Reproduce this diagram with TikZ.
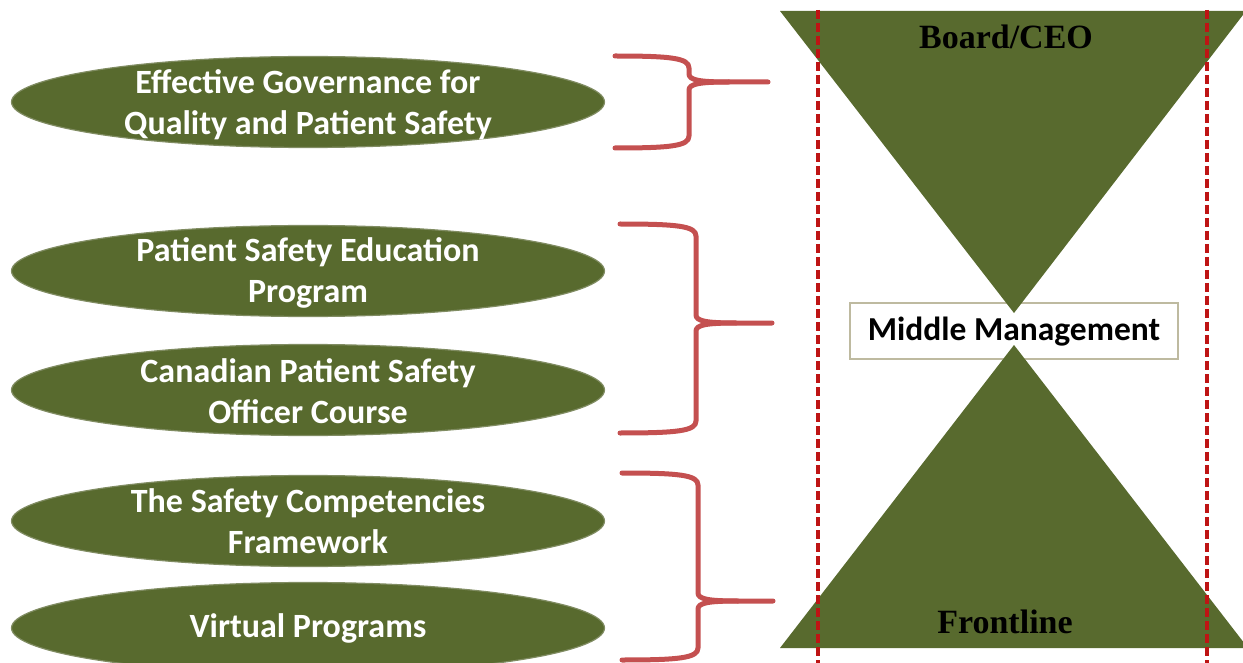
\documentclass[tikz,border=0pt]{standalone}
\usepackage{fontspec}
\setmainfont{Carlito}
\newfontfamily\serifbold{Liberation Serif}
\usetikzlibrary{shapes.geometric}
\definecolor{ogreen}{RGB}{88,106,46}
\definecolor{oedge}{RGB}{128,140,98}
\definecolor{bracered}{RGB}{196,80,80}
\definecolor{dashred}{RGB}{190,20,20}
\definecolor{boxedge}{RGB}{190,186,160}
\newcommand{\redbrace}[6]{%
  \draw[bracestyle] (#1,#4) .. controls ({#1+0.75*(#2-#1)},#4) and (#2,{#4+2}) .. (#2,{#4+12})
     -- (#2,{#5-8}) .. controls (#2,{#5-2}) and ({#2+10},#5) .. ({#2+40},#5) -- (#3,#5);
  \draw[bracestyle] ({#2+40},#5) .. controls ({#2+10},#5) and (#2,{#5+2}) .. (#2,{#5+8})
     -- (#2,{#6-12}) .. controls (#2,{#6-2}) and ({#1+0.75*(#2-#1)},#6) .. (#1,#6);
}
\tikzset{
  oval/.style={ellipse, fill=ogreen, draw=oedge, line width=1.2pt, minimum width=593pt,
    minimum height=91pt, inner sep=0pt},
  ovaltext/.style={text=white, align=center, inner sep=0pt,
    font=\bfseries\fontsize{34}{41}\selectfont},
  bracestyle/.style={draw=bracered, line width=5pt, line cap=round, line join=round},
  guide/.style={draw=dashred, line width=3.2pt, dash pattern=on 9pt off 4pt},
  levelbox/.style={draw=boxedge, fill=white, line width=2pt, minimum width=328pt,
    minimum height=56pt, inner sep=0pt},
  leveltext/.style={font=\serifbold\bfseries\fontsize{34}{40}\selectfont, text=black},
}
\begin{document}
\begin{tikzpicture}[x=1pt,y=-1pt]
\useasboundingbox (0,0) rectangle (1243,663);
\clip (0,0) rectangle (1243,663);
% ovals
\node[oval] (gov) at (308,102) {};
\node[oval] (psep) at (308,271) {};
\node[oval] (cpso) at (308,390) {};
\node[oval] (scf) at (308,521) {};
\node[oval] (vp) at (308,628) {};
\node[ovaltext] (govt) at ([yshift=-3pt]gov.center) {Effective Governance for\\Quality and Patient Safety};
\node[ovaltext] (psept) at ([yshift=-2pt]psep.center) {Patient Safety Education\\Program};
\node[ovaltext] (cpsot) at ([yshift=-1pt]cpso.center) {Canadian Patient Safety\\Officer Course};
\node[ovaltext] (scft) at (scf.center) {The Safety Competencies\\Framework};
\node[ovaltext] (vpt) at (vp.center) {Virtual Programs};
% braces
\redbrace{615}{689}{768}{56}{82}{148}
\redbrace{620}{696}{772}{224}{323}{433}
\redbrace{622}{698}{773}{473}{601}{660}
% middle box
\node[levelbox] (mmbox) at (1014,331) {};
% triangles
\fill[ogreen] (780,11) -- (1246,11) -- (1014,313) -- cycle;
\fill[ogreen] (780,648) -- (1248,648) -- (1014,345) -- cycle;
\node[leveltext] (board) at (1006,37) {Board/CEO};
\node[leveltext] (front) at (1005,622) {Frontline};
\node[font=\bfseries\fontsize{33.5}{38}\selectfont, text=black] (mm) at ([yshift=-1pt]mmbox.center) {Middle Management};
% guides
\coordinate (g1t) at (818,10);
\coordinate (g1b) at (818,663);
\coordinate (g2t) at (1207,10);
\coordinate (g2b) at (1207,663);
\draw[guide] (g1t) -- (g1b);
\draw[guide] (g2t) -- (g2b);
\end{tikzpicture}
\end{document}
